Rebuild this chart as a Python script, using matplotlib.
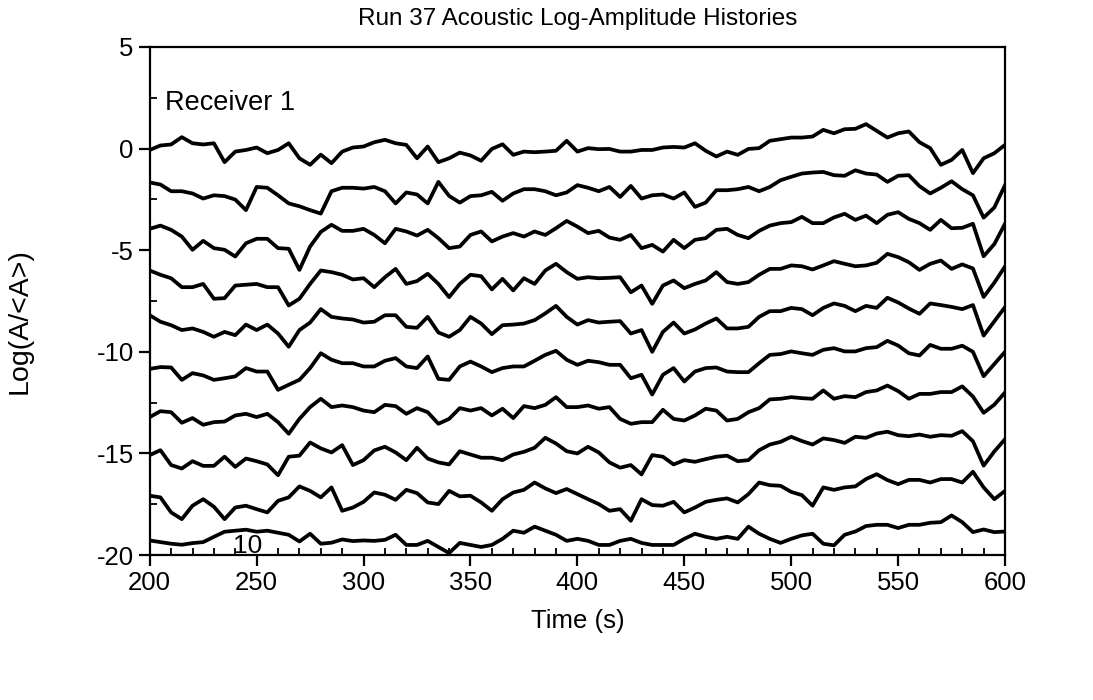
import numpy as np
import matplotlib
matplotlib.use("Agg")
import matplotlib.pyplot as plt
from matplotlib.ticker import MultipleLocator

# time axis (s), one sample every 5 s
t = np.arange(200, 601, 5)

# deviation of each receiver about its own offset
rec1 = [-0.07, 0.15, 0.2, 0.56, 0.26, 0.2, 0.26, -0.67, -0.15, -0.07, 0.05, -0.23, -0.07, 0.26, -0.48, -0.8, -0.3, -0.72, -0.15, 0.05, 0.1,
        0.31, 0.43, 0.26, 0.18, -0.48, 0.1, -0.67, -0.48, -0.2, -0.34, -0.6, -0.02, 0.21, -0.31, -0.15, -0.18, -0.15, -0.11, 0.38, -0.15,
        0.02, -0.03, -0.02, -0.15, -0.15, -0.07, -0.07, 0.05, 0.08, 0.05, 0.26, -0.11, -0.39, -0.15, -0.31, -0.02, 0.02, 0.38, 0.46, 0.54,
        0.54, 0.59, 0.92, 0.75, 0.95, 0.97, 1.2, 0.87, 0.54, 0.75, 0.84, 0.31, 0.02, -0.8, -0.56, -0.07, -1.21, -0.48, -0.23, 0.18]
rec2 = [0.33, 0.23, -0.1, -0.1, -0.21, -0.46, -0.3, -0.34, -0.51, -1.03, 0.11, 0.07, -0.3, -0.7, -0.84, -1.03, -1.2, -0.1, 0.07, 0.07, 0.03,
        0.11, -0.1, -0.7, -0.16, -0.26, -0.7, 0.36, -0.33, -0.66, -0.34, -0.3, -0.13, -0.57, -0.21, 0.0, 0.0, -0.1, -0.3, -0.16, 0.2,
        0.07, -0.1, 0.11, -0.38, 0.16, -0.46, -0.3, -0.26, -0.46, -0.16, -0.87, -0.66, -0.05, -0.05, 0.0, 0.11, -0.1, 0.11, 0.44, 0.61,
        0.77, 0.82, 0.85, 0.69, 0.66, 0.93, 0.77, 0.72, 0.36, 0.66, 0.69, 0.15, -0.21, 0.07, 0.39, 0.0, -0.3, -1.4, -0.9, 0.2]
rec3 = [0.05, 0.21, 0.0, -0.33, -0.98, -0.54, -0.9, -0.98, -1.31, -0.66, -0.44, -0.44, -0.9, -0.93, -1.97, -0.82, -0.1, 0.25, -0.05, -0.05, 0.05,
        -0.25, -0.66, 0.05, -0.08, -0.28, 0.0, -0.41, -0.9, -0.82, -0.25, -0.08, -0.57, -0.33, -0.16, -0.33, -0.08, -0.25, 0.08, 0.44, 0.16,
        -0.16, -0.05, -0.38, -0.49, -0.25, -0.9, -0.74, -1.07, -0.49, -0.9, -0.49, -0.41, 0.0, 0.05, -0.25, -0.41, -0.05, 0.21, 0.33, 0.38,
        0.64, 0.33, 0.33, 0.61, 0.79, 0.49, 0.7, 0.33, 0.74, 0.87, 0.54, 0.33, 0.0, 0.49, 0.08, 0.1, 0.3, -1.3, -0.7, 0.3]
rec4 = [0.0, -0.21, -0.38, -0.82, -0.82, -0.66, -1.39, -1.36, -0.74, -0.7, -0.66, -0.82, -0.82, -1.72, -1.39, -0.66, 0.0, -0.08, -0.21, -0.44, -0.38,
        -0.82, -0.33, 0.08, -0.66, -0.52, -0.16, -0.66, -1.31, -0.66, -0.21, -0.28, -0.93, -0.41, -0.98, -0.38, -0.66, 0.0, 0.33, -0.08, -0.41,
        -0.33, -0.38, -0.36, -0.33, -1.07, -0.74, -1.64, -0.74, -0.49, -0.87, -0.66, -0.49, -0.08, -0.57, -0.66, -0.57, -0.21, 0.08, 0.08, 0.25,
        0.21, 0.05, 0.25, 0.46, 0.33, 0.21, 0.25, 0.38, 0.82, 0.66, 0.41, 0.03, 0.33, 0.49, 0.08, 0.3, 0.1, -1.3, -0.6, 0.2]
rec5 = [-0.2, -0.52, -0.69, -0.93, -0.85, -1.02, -1.26, -1.02, -1.18, -0.66, -0.93, -0.66, -1.1, -1.75, -0.93, -0.56, 0.1, -0.28, -0.36, -0.41, -0.56,
        -0.52, -0.2, -0.2, -0.77, -0.82, -0.28, -1.05, -1.26, -0.93, -0.28, -0.61, -1.13, -0.69, -0.66, -0.61, -0.44, -0.11, 0.26, -0.28, -0.66,
        -0.44, -0.56, -0.52, -0.49, -1.1, -0.93, -2.0, -1.02, -0.56, -1.1, -0.9, -0.61, -0.36, -0.85, -0.85, -0.77, -0.28, 0.0, 0.0, 0.16,
        0.1, -0.2, 0.16, 0.38, 0.26, 0.0, 0.26, 0.16, 0.66, 0.43, 0.13, -0.13, 0.38, 0.3, 0.21, 0.1, 0.3, -1.2, -0.5, 0.2]
rec6 = [-0.84, -0.75, -0.77, -1.38, -1.05, -1.16, -1.38, -1.3, -1.21, -0.8, -0.97, -0.97, -1.87, -1.62, -1.38, -0.8, -0.07, -0.39, -0.56, -0.56, -0.72,
        -0.72, -0.44, -0.31, -0.72, -0.8, -0.23, -1.33, -1.38, -0.72, -0.48, -0.72, -1.0, -0.8, -0.72, -0.72, -0.44, -0.15, 0.05, -0.39, -0.64,
        -0.44, -0.51, -0.64, -0.64, -1.3, -1.13, -2.1, -1.13, -0.8, -1.46, -0.97, -0.8, -0.77, -0.97, -1.0, -1.0, -0.56, -0.15, -0.11, 0.02,
        -0.07, -0.15, 0.1, 0.18, 0.02, 0.02, 0.18, 0.23, 0.54, 0.31, -0.07, -0.18, 0.34, 0.15, 0.15, 0.3, 0.0, -1.2, -0.6, 0.0]
rec7 = [-1.21, -0.92, -0.97, -1.49, -1.26, -1.59, -1.46, -1.43, -1.13, -1.05, -1.21, -1.05, -1.46, -2.03, -1.3, -0.72, -0.31, -0.72, -0.64, -0.72, -0.89,
        -0.97, -0.61, -0.67, -1.05, -0.77, -0.97, -1.54, -1.3, -0.77, -0.89, -0.77, -1.13, -0.8, -1.26, -0.67, -0.77, -0.61, -0.23, -0.72, -0.72,
        -0.64, -0.8, -0.72, -1.3, -1.54, -1.46, -1.46, -0.85, -1.3, -1.38, -1.13, -0.8, -0.89, -1.38, -1.3, -0.97, -0.77, -0.34, -0.31, -0.23,
        -0.28, -0.31, 0.1, -0.31, -0.18, -0.23, 0.02, 0.1, 0.34, 0.07, -0.31, -0.07, -0.07, 0.02, 0.02, 0.3, -0.2, -1.0, -0.6, 0.0]
rec8 = [-1.08, -0.84, -1.57, -1.74, -1.38, -1.61, -1.61, -1.16, -1.66, -1.25, -1.38, -1.54, -2.07, -1.16, -1.11, -0.46, -0.75, -0.95, -0.59, -1.57, -1.33,
        -0.85, -0.67, -0.95, -1.33, -0.72, -1.25, -1.44, -1.54, -0.89, -1.05, -1.21, -1.21, -1.33, -1.05, -0.92, -0.72, -0.23, -0.51, -0.89, -1.0,
        -0.67, -0.95, -1.44, -1.7, -1.57, -2.03, -1.08, -1.16, -1.54, -1.33, -1.41, -1.28, -1.16, -1.11, -1.38, -1.33, -0.84, -0.56, -0.43, -0.18,
        -0.39, -0.56, -0.26, -0.34, -0.48, -0.18, -0.23, -0.02, 0.07, -0.1, -0.15, -0.07, -0.18, -0.1, -0.13, 0.1, -0.4, -1.6, -0.9, -0.3]
rec9 = [-1.08, -1.16, -1.9, -2.23, -1.57, -1.25, -1.62, -2.23, -1.66, -1.57, -1.74, -1.9, -1.33, -1.16, -0.62, -0.84, -1.16, -0.67, -1.82, -1.66, -1.38,
        -0.92, -1.03, -1.28, -0.79, -0.95, -1.41, -1.49, -0.84, -1.11, -1.08, -1.41, -1.82, -1.25, -0.92, -0.79, -0.43, -0.72, -0.95, -0.75, -1.0,
        -1.25, -1.49, -1.82, -1.74, -2.31, -1.25, -1.54, -1.57, -1.38, -1.9, -1.66, -1.38, -1.28, -1.21, -1.41, -1.0, -0.43, -0.56, -0.59, -0.89,
        -1.05, -1.57, -0.67, -0.79, -0.67, -0.62, -0.26, -0.02, -0.31, -0.51, -0.3, -0.3, -0.43, -0.26, -0.26, -0.43, 0.1, -0.67, -1.25, -0.84]
rec10 = [-1.28, -1.36, -1.44, -1.49, -1.41, -1.36, -1.1, -0.85, -0.8, -0.75, -0.85, -0.8, -0.9, -1.0, -1.33, -0.95, -1.44, -1.39, -1.23, -1.31, -1.28,
         -1.3, -1.25, -1.0, -1.5, -1.5, -1.3, -1.6, -1.9, -1.4, -1.5, -1.6, -1.5, -1.2, -0.8, -0.9, -0.6, -0.8, -1.0, -1.3, -1.2,
         -1.3, -1.5, -1.5, -1.3, -1.2, -1.4, -1.5, -1.5, -1.5, -1.2, -0.95, -1.1, -1.2, -1.1, -1.2, -0.6, -0.95, -1.2, -1.4, -1.2,
         -1.03, -0.95, -1.44, -1.52, -1.0, -0.84, -0.57, -0.51, -0.51, -0.67, -0.51, -0.51, -0.41, -0.38, -0.05, -0.38, -0.87, -0.74, -0.87, -0.84]

records = [rec1, rec2, rec3, rec4, rec5, rec6, rec7, rec8, rec9, rec10]
offsets = [0, -2, -4, -6, -8, -10, -12, -14, -16, -18]

plt.rcParams['font.family'] = ['Liberation Sans', 'DejaVu Sans']
plt.rcParams['axes.unicode_minus'] = False

fig = plt.figure(figsize=(10.93, 7.0), dpi=100)
ax = fig.add_axes([0.137, 0.207, 0.7825, 0.726])

for rec, off in zip(records, offsets):
    ax.plot(t, np.array(rec) + off, color='black', lw=2.7)

ax.set_xlim(200, 600)
ax.set_ylim(-20, 5)
ax.xaxis.set_major_locator(MultipleLocator(50))
ax.xaxis.set_minor_locator(MultipleLocator(10))
ax.yaxis.set_major_locator(MultipleLocator(5))
ax.yaxis.set_minor_locator(MultipleLocator(2.5))
ax.tick_params(which='major', direction='out', length=8, width=1.6, labelsize=18.5)
ax.tick_params(which='minor', direction='in', length=5, width=1.3)
for sp in ax.spines.values():
    sp.set_linewidth(1.6)

ax.set_title("Run 37 Acoustic Log-Amplitude Histories", fontsize=17.5, pad=16)
ax.set_xlabel("Time (s)", fontsize=18.5, labelpad=10)
ax.set_ylabel("Log(A/<A>)", fontsize=20.5)
ax.yaxis.set_label_coords(-0.137, 0.46)

ax.text(207, 1.9, "Receiver 1", fontsize=19.5)
ax.text(239, -19.9, "10", fontsize=19)

fig.savefig("out.png", dpi=100)
